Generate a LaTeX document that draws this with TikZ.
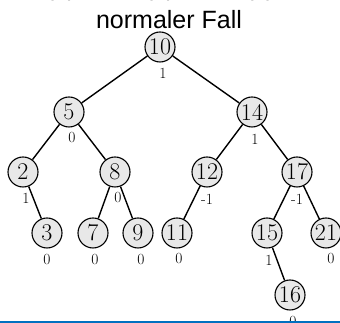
\documentclass[tikz,border=0pt]{standalone}
\usepackage{fontspec}
\newfontfamily\arialfont{Liberation Sans}
\begin{document}
\begin{tikzpicture}[x=1pt,y=1pt,
  tn/.style={circle,draw=black,line width=1.1pt,fill=black!9,minimum size=30pt,inner sep=0pt,font=\fontsize{24}{24}\selectfont},
  bal/.style={inner sep=0pt,font=\fontsize{15.5}{15.5}\selectfont},
  edge/.style={line width=1.4pt},
  ttl/.style={inner sep=0pt,anchor=base,font=\arialfont\fontsize{25}{25}\selectfont}]
\useasboundingbox (0,0) rectangle (340,323);
% cut-off heading
\node[ttl] (h1) at (61,327) {(a)};
\node[ttl] (h2) at (160,327) {(b)};
\node[ttl] (h3) at (260,327) {(c)};
\node[ttl] (title) at (169,294) {normaler Fall};
% tree nodes
\node[tn] (n10) at (160,276) {10};
\node[tn] (n5) at (69,211) {5};
\node[tn] (n14) at (252,211) {14};
\node[tn] (n2) at (23,151) {2};
\node[tn] (n8) at (115,151) {8};
\node[tn] (n12) at (207,151) {12};
\node[tn] (n17) at (297,151) {17};
\node[tn] (n3) at (47,90) {3};
\node[tn] (n7) at (93,90) {7};
\node[tn] (n9) at (138,90) {9};
\node[tn] (n11) at (177,90) {11};
\node[tn] (n15) at (267,90) {15};
\node[tn] (n21) at (326,90) {21};
\node[tn] (n16) at (290,28) {16};
% edges
\draw[edge] (n10) -- (n5);
\draw[edge] (n10) -- (n14);
\draw[edge] (n5) -- (n2);
\draw[edge] (n5) -- (n8);
\draw[edge] (n14) -- (n12);
\draw[edge] (n14) -- (n17);
\draw[edge] (n2) -- (n3);
\draw[edge] (n8) -- (n7);
\draw[edge] (n8) -- (n9);
\draw[edge] (n12) -- (n11);
\draw[edge] (n17) -- (n15);
\draw[edge] (n17) -- (n21);
\draw[edge] (n15) -- (n16);
% balance labels
\node[bal] (b10) at ([shift={(3,-26)}]n10.center) {1};
\node[bal] (b5) at ([shift={(3,-26)}]n5.center) {0};
\node[bal] (b14) at ([shift={(3,-27)}]n14.center) {1};
\node[bal] (b2) at ([shift={(3,-26)}]n2.center) {1};
\node[bal] (b8) at ([shift={(3,-26)}]n8.center) {0};
\node[bal] (b12) at ([shift={(0,-27)}]n12.center) {-1};
\node[bal] (b17) at ([shift={(0,-27)}]n17.center) {-1};
\node[bal] (b3) at ([shift={(0,-27)}]n3.center) {0};
\node[bal] (b7) at ([shift={(2,-27)}]n7.center) {0};
\node[bal] (b9) at ([shift={(3,-27)}]n9.center) {0};
\node[bal] (b11) at ([shift={(2,-26)}]n11.center) {0};
\node[bal] (b15) at ([shift={(2,-27)}]n15.center) {1};
\node[bal] (b21) at ([shift={(5,-26)}]n21.center) {0};
\node[bal] (b16) at ([shift={(3,-27)}]n16.center) {0};
% bottom rule
\coordinate (r1) at (0,1);
\coordinate (r2) at (340,1);
\draw[line width=2pt,draw={rgb,255:red,0;green,112;blue,192}] (r1) -- (r2);
\end{tikzpicture}
\end{document}
